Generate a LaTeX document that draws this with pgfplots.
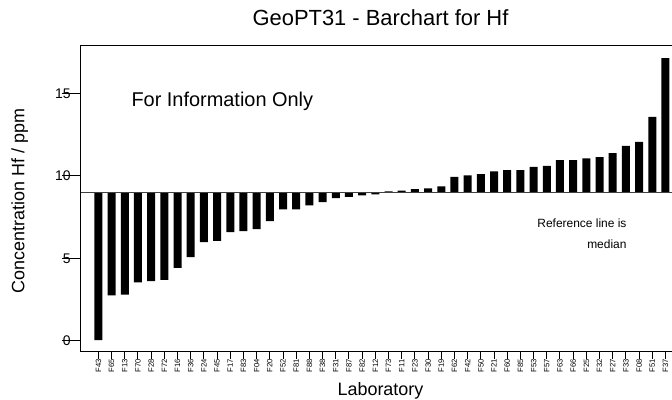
\documentclass[border=0pt]{standalone}
\usepackage{pgfplots}
\usepackage{pgfplotstable}
\pgfplotsset{compat=1.18}
\usepackage{fontspec}
\setmainfont{Liberation Sans}

\pgfplotstableread{
lab v
F43 0.04
F65 2.75
F13 2.80
F70 3.54
F28 3.61
F72 3.69
F16 4.42
F36 5.07
F24 5.98
F45 6.06
F17 6.59
F83 6.65
F04 6.77
F20 7.25
F52 7.96
F81 7.96
F88 8.21
F38 8.41
F31 8.65
F87 8.73
F82 8.81
F12 8.88
F73 9.06
F11 9.10
F23 9.20
F30 9.24
F19 9.36
F62 9.93
F42 10.03
F50 10.11
F21 10.27
F60 10.35
F85 10.35
F53 10.54
F57 10.60
F63 10.96
F66 10.96
F25 11.06
F32 11.14
F27 11.37
F33 11.81
F08 12.06
F51 13.58
F37 17.14
}\hfdata

\begin{document}
\begin{tikzpicture}
% page = 672 x 400 bp, origin at lower left corner of the plot box
\useasboundingbox (-81bp,-48.5bp) rectangle (591bp,351.5bp);

\begin{axis}[
  scale only axis,
  width=599bp, height=305.8bp,
  anchor=south west, at={(0,0)},
  ybar, bar width=8bp, bar shift=0pt,
  % bars grow from the median (8.97) instead of from zero
  y coord trafo/.code={\pgfmathparse{#1-8.97}},
  y coord inv trafo/.code={\pgfmathparse{#1+8.97}},
  xmin=-1.32, xmax=44.1,
  ymin=-0.65, ymax=17.89,
  xtick={0,...,43},
  xticklabels from table={\hfdata}{lab},
  ytick={0,5,10,15},
  yticklabels={0,5,10,15},
  tick align=outside,
  xtick pos=lower, ytick pos=left,
  axis line style={line width=1bp},
  x tick style={line width=1bp, black, /pgfplots/major tick length=7.5bp},
  y tick style={line width=1bp, black, /pgfplots/major tick length=19bp},
  /pgf/number format/assume math mode=true,
  xticklabel style={font=\fontsize{7.7}{8}\selectfont, rotate=90, anchor=east, inner sep=0pt, xshift=-3.5bp},
  yticklabel style={font=\fontsize{14}{16}\selectfont, anchor=east, inner sep=0pt, xshift=-6bp},
  title={GeoPT31 - Barchart for Hf},
  title style={font=\fontsize{22}{26}\selectfont, at={(axis description cs:0.5,1.0464)}, anchor=base},
  xlabel={Laboratory},
  xlabel style={font=\fontsize{18}{20}\selectfont, at={(axis description cs:0.5,-0.1455)}, anchor=base},
  ylabel={Concentration Hf / ppm},
  ylabel style={font=\fontsize{18}{20}\selectfont, at={(axis description cs:-0.1023,0.492)}, anchor=center, rotate=0},
]
\addplot[ybar, fill=black, draw=none] table[x expr=\coordindex, y=v] {\hfdata};
\addplot[sharp plot, line width=1.2bp, color=black!75] coordinates {(-1.32,8.97) (44.1,8.97)};

\node[anchor=base west, font=\fontsize{20}{24}\selectfont] at (axis description cs:0.0785,0.8005) {For Information Only};
\node[anchor=base east, font=\fontsize{12}{14}\selectfont] at (axis description cs:0.9165,0.4039) {Reference line is};
\node[anchor=base east, font=\fontsize{12}{14}\selectfont] at (axis description cs:0.9165,0.3384) {median};
\end{axis}
\end{tikzpicture}
\end{document}
